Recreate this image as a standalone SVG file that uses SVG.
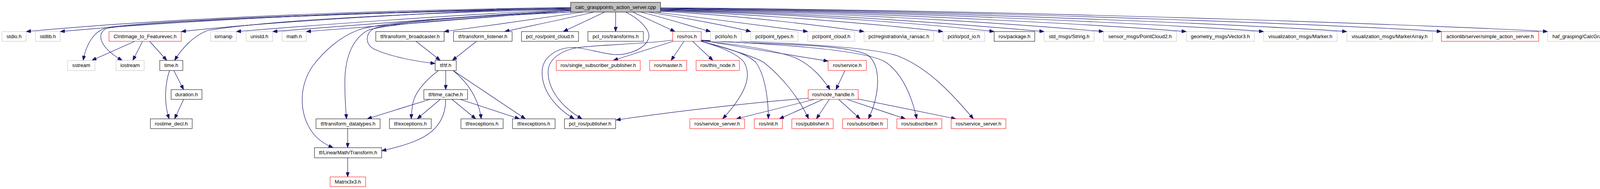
<svg xmlns="http://www.w3.org/2000/svg" width="4253" height="485" viewBox="0 0 4253 485">
<style>
rect{fill:#fff;stroke-width:1}
.g rect{stroke:#bfbfbf}
.b rect{stroke:#000}
.r rect{stroke:#ff0000}
.t rect{fill:#bfbfbf;stroke:#000}
text{font-family:"Liberation Sans",Arial,Helvetica,sans-serif;font-size:13px;text-anchor:middle;fill:#000}
#edges path{fill:none;stroke:#191970;stroke-width:1.2;marker-end:url(#a)}
</style>
<defs>
<marker id="a" markerUnits="userSpaceOnUse" markerWidth="12" markerHeight="9" refX="12" refY="4.5" orient="auto">
<path d="M0,0 L12,4.5 L0,9 z" fill="#191970" stroke="#191970" stroke-width="1"/>
</marker>
</defs>
<rect x="0" y="0" width="4253" height="485" style="fill:#fff;stroke:none"/>
<g id="edges">
<path d="M1461,19 C1100,24 500,40 67,81"/>
<path d="M1461,20 C1100,26 550,45 154,81"/>
<path d="M1461,21 C1150,28 700,55 464,81"/>
<path d="M1461,22 C1000,28 420,50 277,70 C240,78 220,115 213,155"/>
<path d="M1461,23 C1000,30 400,52 278,72 C245,80 250,120 313,155"/>
<path d="M1461,24 C1100,32 700,50 532,78 C495,92 465,125 447,155"/>
<path d="M1461,25 C1200,35 800,65 605,81"/>
<path d="M1461,26 C1250,38 900,65 698,81"/>
<path d="M1461,27 C1300,40 1000,65 784,81"/>
<path d="M1461,28 C1250,38 1020,55 960,72 C935,82 932,115 960,127 C1000,145 1060,157 1114,163"/>
<path d="M1470,31 C1250,40 1000,60 943,77 C900,100 885,150 883,200 C882,250 885,280 887,305"/>
<path d="M1466,31 C1250,38 980,55 917,77 C870,95 830,130 800,170 C760,230 770,300 800,340 C815,360 835,372 853,379"/>
<path d="M1492,31 C1400,45 1250,66 1137,81"/>
<path d="M1520,31 C1450,48 1350,68 1292,81"/>
<path d="M1548,31 L1442,81"/>
<path d="M1576,31 L1576,81"/>
<path d="M1602,31 C1640,50 1668,80 1660,100 C1650,125 1610,142 1573,140 C1540,138 1490,120 1460,122 C1420,125 1390,150 1388,180 C1385,230 1420,275 1470,305"/>
<path d="M1722,103 C1650,113 1530,115 1480,122 C1440,128 1410,148 1404,175 C1398,220 1430,270 1490,305"/>
<path d="M1620,31 L1728,81"/>
<path d="M1640,31 C1700,45 1770,68 1819,81"/>
<path d="M1660,31 C1760,47 1870,68 1922,81"/>
<path d="M1680,31 C1820,48 1980,70 2068,81"/>
<path d="M1691,29 C1900,40 2120,68 2212,81"/>
<path d="M1691,28 C2000,38 2320,70 2414,81"/>
<path d="M1691,27 C2100,36 2450,70 2545,81"/>
<path d="M1691,26 C2150,34 2550,70 2673,81"/>
<path d="M1691,25 C2250,33 2700,70 2825,81"/>
<path d="M1691,24 C2300,31 2900,70 3037,81"/>
<path d="M1691,23 C2400,30 3100,70 3235,81"/>
<path d="M1691,22 C2500,29 3300,70 3448,81"/>
<path d="M1691,21 C2600,28 3550,70 3690,81"/>
<path d="M1691,20 C2700,27 3800,70 3962,81"/>
<path d="M1723,106 L1570,155"/>
<path d="M1751,106 L1718,155"/>
<path d="M1773,106 L1825,155"/>
<path d="M1795,103 C1900,122 2050,145 2120,157"/>
<path d="M1795,105 C1900,115 1990,130 2040,150 C2080,170 2105,200 2125,230"/>
<path d="M1795,106 C1850,122 1890,140 1905,160 C1925,195 1910,240 1850,305"/>
<path d="M1795,106 C1870,125 1915,140 1935,160 C1960,195 1967,260 1967,305"/>
<path d="M1795,106 C1880,130 1930,145 1955,160 C2000,195 2045,250 2070,305"/>
<path d="M1795,104 C1950,115 2150,110 2220,140 C2260,170 2250,250 2223,305"/>
<path d="M1795,104 C1960,112 2200,125 2263,157 C2310,185 2335,250 2347,305"/>
<path d="M1795,103 C1980,108 2220,118 2297,143 C2380,175 2440,245 2492,305"/>
<path d="M2069,252 C1900,265 1700,290 1577,308"/>
<path d="M2085,255 L1885,305"/>
<path d="M2107,255 L1995,305"/>
<path d="M2123,255 L2090,305"/>
<path d="M2147,255 L2202,305"/>
<path d="M2168,255 L2318,305"/>
<path d="M2197,254 L2447,305"/>
<path d="M2163,181 L2140,230"/>
<path d="M1065,106 L1127,155"/>
<path d="M1220,106 L1158,155"/>
<path d="M1141,181 L1141,230"/>
<path d="M1122,181 C1085,210 1060,240 1056,270 C1054,285 1053,295 1053,305"/>
<path d="M1160,181 C1195,210 1225,250 1232,305"/>
<path d="M1160,181 L1345,305"/>
<path d="M1127,255 L1068,305"/>
<path d="M1157,255 L1218,305"/>
<path d="M1178,255 L1330,305"/>
<path d="M1100,255 L940,305"/>
<path d="M1141,255 C1141,300 1120,340 1060,363 C1030,375 1000,382 977,387"/>
<path d="M890,330 L890,379"/>
<path d="M890,405 L890,454"/>
<path d="M345,106 L235,155"/>
<path d="M365,106 L340,155"/>
<path d="M383,106 L427,155"/>
<path d="M445,181 L470,230"/>
<path d="M434,181 C424,210 418,260 433,305"/>
<path d="M470,255 L447,305"/>
</g>
<g id="n_main" class="t"><rect x="1461" y="6" width="230" height="25"/><text x="1576" y="23">calc_grasppoints_action_server.cpp</text></g>
<g id="n_stdio" class="g"><rect x="5" y="81" width="62" height="25"/><text x="36" y="98">stdio.h</text></g>
<g id="n_stdlib" class="g"><rect x="91" y="81" width="63" height="25"/><text x="122.5" y="98">stdlib.h</text></g>
<g id="n_cint" class="r"><rect x="279" y="81" width="185" height="25"/><text x="371.5" y="98">CIntImage_to_Featurevec.h</text></g>
<g id="n_iomanip" class="g"><rect x="539" y="81" width="66" height="25"/><text x="572" y="98">iomanip</text></g>
<g id="n_unistd" class="g"><rect x="630" y="81" width="68" height="25"/><text x="664" y="98">unistd.h</text></g>
<g id="n_math" class="g"><rect x="722" y="81" width="62" height="25"/><text x="753" y="98">math.h</text></g>
<g id="n_tfbc" class="b"><rect x="962" y="81" width="175" height="25"/><text x="1049.5" y="98">tf/transform_broadcaster.h</text></g>
<g id="n_tfl" class="b"><rect x="1161" y="81" width="150" height="25"/><text x="1236" y="98">tf/transform_listener.h</text></g>
<g id="n_prpc" class="b"><rect x="1335" y="81" width="146" height="25"/><text x="1408" y="98">pcl_ros/point_cloud.h</text></g>
<g id="n_prt" class="b"><rect x="1505" y="81" width="142" height="25"/><text x="1576" y="98">pcl_ros/transforms.h</text></g>
<g id="n_ros" class="r"><rect x="1722" y="81" width="73" height="25"/><text x="1758.5" y="98">ros/ros.h</text></g>
<g id="n_pclio" class="g"><rect x="1819" y="81" width="79" height="25"/><text x="1858.5" y="98">pcl/io/io.h</text></g>
<g id="n_pclpt" class="g"><rect x="1922" y="81" width="121" height="25"/><text x="1982.5" y="98">pcl/point_types.h</text></g>
<g id="n_pclpc" class="g"><rect x="2068" y="81" width="120" height="25"/><text x="2128" y="98">pcl/point_cloud.h</text></g>
<g id="n_ransac" class="g"><rect x="2212" y="81" width="178" height="25"/><text x="2301" y="98">pcl/registration/ia_ransac.h</text></g>
<g id="n_pcd" class="g"><rect x="2414" y="81" width="107" height="25"/><text x="2467.5" y="98">pcl/io/pcd_io.h</text></g>
<g id="n_pkg" class="b"><rect x="2545" y="81" width="104" height="25"/><text x="2597" y="98">ros/package.h</text></g>
<g id="n_str" class="g"><rect x="2673" y="81" width="128" height="25"/><text x="2737" y="98">std_msgs/String.h</text></g>
<g id="n_pc2" class="g"><rect x="2825" y="81" width="187" height="25"/><text x="2918.5" y="98">sensor_msgs/PointCloud2.h</text></g>
<g id="n_v3" class="g"><rect x="3037" y="81" width="174" height="25"/><text x="3124" y="98">geometry_msgs/Vector3.h</text></g>
<g id="n_mk" class="g"><rect x="3235" y="81" width="188" height="25"/><text x="3329" y="98">visualization_msgs/Marker.h</text></g>
<g id="n_mka" class="g"><rect x="3448" y="81" width="219" height="25"/><text x="3557.5" y="98">visualization_msgs/MarkerArray.h</text></g>
<g id="n_sas" class="r"><rect x="3690" y="81" width="249" height="25"/><text x="3814.5" y="98">actionlib/server/simple_action_server.h</text></g>
<g id="n_haf" class="g"><rect x="3962" y="81" width="286" height="25"/><text x="4105" y="98">haf_grasping/CalcGraspPointsServerAction.h</text></g>
<g id="n_sstream" class="g"><rect x="173" y="155" width="70" height="26"/><text x="208" y="172">sstream</text></g>
<g id="n_iostream" class="g"><rect x="297" y="155" width="72" height="26"/><text x="333" y="172">iostream</text></g>
<g id="n_time" class="b"><rect x="409" y="155" width="59" height="26"/><text x="438.5" y="172">time.h</text></g>
<g id="n_tf" class="b"><rect x="1114" y="155" width="54" height="26"/><text x="1141" y="172">tf/tf.h</text></g>
<g id="n_ssp" class="r"><rect x="1424" y="155" width="215" height="26"/><text x="1531.5" y="172">ros/single_subscriber_publisher.h</text></g>
<g id="n_master" class="r"><rect x="1663" y="155" width="95" height="26"/><text x="1710.5" y="172">ros/master.h</text></g>
<g id="n_thisnode" class="r"><rect x="1782" y="155" width="111" height="26"/><text x="1837.5" y="172">ros/this_node.h</text></g>
<g id="n_service" class="r"><rect x="2120" y="155" width="98" height="26"/><text x="2169" y="172">ros/service.h</text></g>
<g id="n_duration" class="b"><rect x="438" y="230" width="79" height="25"/><text x="477.5" y="246.5">duration.h</text></g>
<g id="n_tc" class="b"><rect x="1085" y="230" width="112" height="25"/><text x="1141" y="246.5">tf/time_cache.h</text></g>
<g id="n_nh" class="r"><rect x="2069" y="230" width="128" height="25"/><text x="2133" y="246.5">ros/node_handle.h</text></g>
<g id="n_rtd" class="b"><rect x="385" y="305" width="107" height="25"/><text x="438.5" y="321.5">rostime_decl.h</text></g>
<g id="n_tdt" class="b"><rect x="809" y="305" width="164" height="25"/><text x="891" y="321.5">tf/transform_datatypes.h</text></g>
<g id="n_exc1" class="b"><rect x="997" y="305" width="107" height="25"/><text x="1050.5" y="321.5">tf/exceptions.h</text></g>
<g id="n_exc2" class="b"><rect x="1180" y="305" width="108" height="25"/><text x="1234" y="321.5">tf/exceptions.h</text></g>
<g id="n_exc3" class="b"><rect x="1312" y="305" width="109" height="25"/><text x="1366.5" y="321.5">tf/exceptions.h</text></g>
<g id="n_prpub" class="b"><rect x="1445" y="305" width="131" height="25"/><text x="1510.5" y="321.5">pcl_ros/publisher.h</text></g>
<g id="n_ss1" class="r"><rect x="1766" y="305" width="140" height="25"/><text x="1836" y="321.5">ros/service_server.h</text></g>
<g id="n_init" class="r"><rect x="1931" y="305" width="72" height="25"/><text x="1967" y="321.5">ros/init.h</text></g>
<g id="n_pub" class="r"><rect x="2027" y="305" width="106" height="25"/><text x="2080" y="321.5">ros/publisher.h</text></g>
<g id="n_sub1" class="r"><rect x="2157" y="305" width="115" height="25"/><text x="2214.5" y="321.5">ros/subscriber.h</text></g>
<g id="n_sub2" class="r"><rect x="2296" y="305" width="115" height="25"/><text x="2353.5" y="321.5">ros/subscriber.h</text></g>
<g id="n_ss2" class="r"><rect x="2435" y="305" width="140" height="25"/><text x="2505" y="321.5">ros/service_server.h</text></g>
<g id="n_tr" class="b"><rect x="805" y="379" width="172" height="26"/><text x="891" y="396">tf/LinearMath/Transform.h</text></g>
<g id="n_m33" class="r"><rect x="845" y="454" width="91" height="25"/><text x="890.5" y="471">Matrix3x3.h</text></g>
</svg>
